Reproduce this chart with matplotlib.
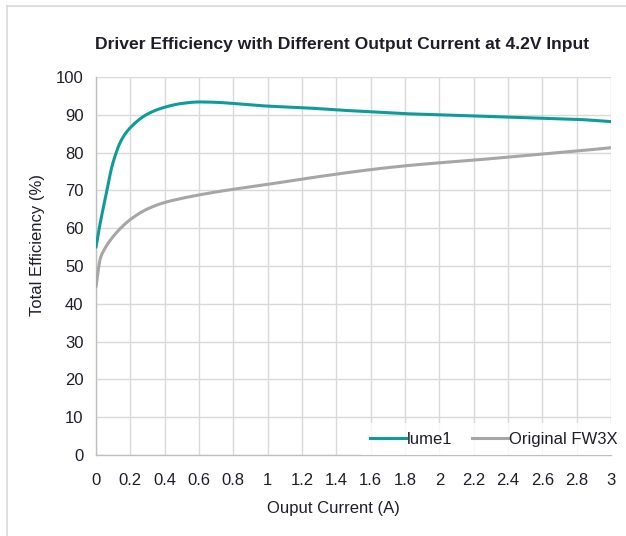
import matplotlib
matplotlib.use("Agg")
import matplotlib.pyplot as plt
from matplotlib.lines import Line2D
import numpy as np

current = [0.0, 0.025, 0.05, 0.1, 0.15, 0.2, 0.3, 0.4, 0.5, 0.6, 0.7, 0.8, 1.0, 1.2, 1.4, 1.6, 1.8, 2.0, 2.2, 2.4, 2.6, 2.8, 3.0]
lume1 = [55.0, 61.5, 67.0, 77.5, 83.5, 86.6, 90.2, 92.0, 93.0, 93.4, 93.3, 93.0, 92.3, 91.9, 91.3, 90.8, 90.3, 90.0, 89.7, 89.4, 89.1, 88.8, 88.2]
original = [44.5, 52.0, 54.5, 57.8, 60.3, 62.3, 65.1, 66.8, 67.9, 68.8, 69.6, 70.3, 71.6, 73.0, 74.3, 75.5, 76.5, 77.3, 78.0, 78.8, 79.6, 80.4, 81.3]
series_names = ["lume1", "Original FW3X"]
x_ticks = [0, 0.2, 0.4, 0.6, 0.8, 1, 1.2, 1.4, 1.6, 1.8, 2, 2.2, 2.4, 2.6, 2.8, 3]
x_tick_labels = ["0", "0.2", "0.4", "0.6", "0.8", "1", "1.2", "1.4", "1.6", "1.8", "2", "2.2", "2.4", "2.6", "2.8", "3"]
y_ticks = [0, 10, 20, 30, 40, 50, 60, 70, 80, 90, 100]

plt.rcParams['font.family'] = ['Liberation Sans', 'DejaVu Sans']
txt = '#1e1e28'
teal = '#0e9c98'
grey = '#a6a6a6'

W, H = 626, 536
fig = plt.figure(figsize=(W/100, H/100), dpi=100)
ax = fig.add_axes([96/W, 1 - 455/H, (611-96)/W, (455-77)/H])

def smooth(xs, ys, n=400):
    xs = np.asarray(xs, float); ys = np.asarray(ys, float)
    h = np.diff(xs); d = np.diff(ys) / h
    m = np.zeros_like(ys)
    for i in range(1, len(xs) - 1):
        if d[i-1] * d[i] > 0:
            w1 = 2*h[i] + h[i-1]; w2 = h[i] + 2*h[i-1]
            m[i] = (w1 + w2) / (w1/d[i-1] + w2/d[i])
    m[0] = d[0]; m[-1] = d[-1]
    xx = np.linspace(xs[0], xs[-1], n)
    idx = np.clip(np.searchsorted(xs, xx) - 1, 0, len(xs) - 2)
    t = (xx - xs[idx]) / h[idx]
    h00 = 2*t**3 - 3*t**2 + 1; h10 = t**3 - 2*t**2 + t
    h01 = -2*t**3 + 3*t**2; h11 = t**3 - t**2
    yy = h00*ys[idx] + h10*h[idx]*m[idx] + h01*ys[idx+1] + h11*h[idx]*m[idx+1]
    return xx, yy

xx, yy = smooth(current, lume1)
ax.plot(xx, yy, color=teal, lw=2.2, solid_capstyle='round', zorder=3)
xx, yy = smooth(current, original)
ax.plot(xx, yy, color=grey, lw=2.2, solid_capstyle='round', zorder=3)

ax.set_xlim(0, 3)
ax.set_ylim(0, 100)
ax.set_xticks(x_ticks)
ax.set_xticklabels(x_tick_labels)
ax.set_yticks(y_ticks)
ax.grid(True, color='#d9d9d9', lw=1.0)
ax.set_axisbelow(True)
for s in ['top', 'right']:
    ax.spines[s].set_visible(False)
for s in ['left', 'bottom']:
    ax.spines[s].set_color('#bfbfbf')
    ax.spines[s].set_linewidth(1.0)
ax.tick_params(length=0, labelsize=12, colors=txt)
ax.tick_params(axis='x', pad=13)
ax.tick_params(axis='y', pad=9)

fig.text(333/W, 1 - 508/H, 'Ouput Current (A)', ha='center', va='center', fontsize=12, color=txt)
fig.text(38/W, 1 - 245/H, 'Total Efficiency (%)', ha='center', va='center', rotation=90,
         fontsize=12, color=txt)
fig.text(342/W, 1 - 45/H, 'Driver Efficiency with Different Output Current at 4.2V Input',
         ha='center', va='center', fontsize=12.6, fontweight='bold', color=txt)

handles = [Line2D([], [], color=teal, lw=2.2), Line2D([], [], color=grey, lw=2.2)]
leg = ax.legend(handles, series_names, loc='lower right', ncol=2, frameon=True,
                fontsize=12, handlelength=2.2, handletextpad=0.05, columnspacing=1.15,
                bbox_to_anchor=(1.03, 0.0), borderaxespad=0.0, borderpad=0.5, labelcolor=txt)
leg.get_frame().set_facecolor('white')
leg.get_frame().set_edgecolor('white')
leg.get_frame().set_linewidth(0)
leg.get_frame().set_boxstyle('square', pad=0)

fig.add_artist(Line2D([7/W, 7/W], [0, 1 - 6/H], transform=fig.transFigure, color='#d9d9d9', lw=1.2))
fig.add_artist(Line2D([7/W, 1], [1 - 6/H, 1 - 6/H], transform=fig.transFigure, color='#d9d9d9', lw=1.2))

fig.savefig('out.png', dpi=100)
